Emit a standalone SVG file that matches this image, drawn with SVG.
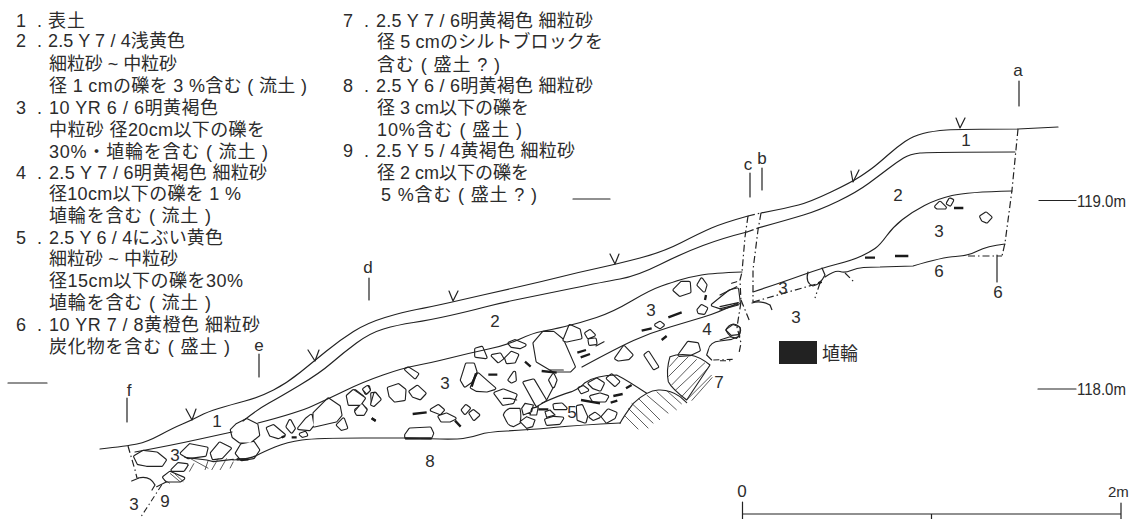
<svg xmlns="http://www.w3.org/2000/svg" width="1131" height="519" viewBox="0 0 1131 519">
<style>
text{font-family:"Liberation Sans","Noto Sans CJK JP",sans-serif;fill:#2c2c2c}
.k{font-size:18px}
.n{font-size:17px;text-anchor:middle}
.m{font-size:17px}
.l{fill:none;stroke:#222;stroke-width:1.2;stroke-linejoin:round;stroke-linecap:round}
.d{stroke-dasharray:7 3 1.5 3;stroke-linecap:butt}
.g{fill:none;stroke:#222;stroke-width:3.4;stroke-linejoin:round;stroke-linecap:round}
.rd{fill:#222;stroke:#222;stroke-width:11.4;stroke-linejoin:round}
.rw{fill:#fff;stroke:#fff;stroke-width:4.6;stroke-linejoin:round}
.h{fill:none;stroke:#333;stroke-width:2.4}
.t{fill:none;stroke:#1a1a1a;stroke-width:7;stroke-linecap:butt}
.gd{fill:none;stroke:#222;stroke-width:3.2;stroke-dasharray:18 9 4 9}
</style>
<defs>
<path id="r-ll" d="M425 180L440 165 470 150 500 165 505 195 480 215 450 215 430 200ZM440 250L455 225 490 218 505 240 490 262 455 268ZM135 260L160 245 200 250 225 270 215 285 170 285 145 280ZM275 250L300 225 350 235 345 255 295 262ZM365 250L390 220 420 235 395 262 370 265ZM247 300L265 282 290 285 280 300ZM222 322L240 308 280 325 270 332 230 332Z"/>
<path id="r-l" d="M113 535L130 528 162 555 145 562 122 555ZM172 530L180 513 192 535 185 545ZM207 535L230 507 243 497 248 525 238 538ZM253 490L295 448 327 470 332 495 318 512 253 527ZM323 525L340 508 349 533 335 537ZM358 435L375 423 397 440 392 457 367 462ZM404 420L415 411 417 420 408 429ZM426 432L435 431 447 447 428 462ZM378 480L395 468 407 478 398 489 385 492ZM212 553L225 548 229 555 218 558Z"/>
<path id="r-m" d="M146 265L175 255 194 270 192 298 165 302 151 288ZM211 275L232 260 254 280 240 295 220 288ZM198 208L205 205 232 222 225 232ZM365 240L380 193 400 193 407 215 392 245 375 257ZM395 262L415 223 442 247 463 265 440 272 410 270ZM408 148L425 143 437 172 408 168ZM458 167L480 163 487 175 475 184ZM498 175L515 158 532 165 523 185 502 187ZM508 130L525 123 554 135 540 142 515 138ZM508 240L523 218 525 240 515 245ZM466 280L490 271 527 285 518 307 490 312ZM553 248L580 241 615 300 590 315ZM583 130L610 98 640 98 667 120 702 200 690 212 640 212 592 183ZM630 240L640 225 647 240 640 259ZM275 330L295 318 309 330 300 340ZM298 350L320 343 344 355 330 362 305 362ZM368 330L378 318 387 325 375 339ZM391 340L400 333 415 345 402 357ZM198 405L210 388 270 385 277 400 272 412 198 412ZM643 315L665 313 677 325 645 325ZM618 360L640 353 667 355 658 369 622 372ZM23 288L40 273 72 295 60 312 28 312ZM72 268L82 261 87 270 80 277ZM96 313L105 281 119 298 101 315ZM48 335L65 315 77 330 70 342 52 342Z"/>
<path id="r-r" d="M193 240L210 198 237 210 242 233 200 242ZM258 220L270 213 282 225 265 232ZM268 240L285 238 287 250 270 252ZM523 90L545 68 567 68 569 95 540 105ZM595 75L605 58 617 75 612 92ZM595 150L605 138 619 145 612 159 597 157ZM638 135L690 93 712 88 717 128 660 142ZM468 195L480 188 489 195 480 202ZM348 295L372 261 395 285 385 295 355 299ZM436 285L445 278 472 320 462 325ZM238 385L250 381 262 390 245 397ZM268 370L290 358 309 370 300 389 280 382ZM323 355L335 346 355 365 345 375ZM273 410L300 403 322 410 315 422 280 422ZM233 440L245 438 259 470 255 485 235 478ZM271 470L285 461 297 470 280 477ZM308 470L325 451 347 460 342 473 320 485ZM538 285L565 248 592 252 597 270 570 283ZM683 210L700 198 717 205 715 220 695 222Z"/>
<path id="r-a" d="M168 440L180 428 195 443 172 443ZM203 430L210 418 217 421 210 434ZM303 470L318 460 332 472 320 485 308 480Z"/>
</defs>
<rect width="1131" height="519" fill="#fff"/>

<g id="legend-left" class="k">
<text x="16" y="27" textLength="26">1 .</text><text x="48" y="27" textLength="37">表土</text>
<text x="16" y="47" textLength="26">2 .</text><text x="48" y="47" textLength="137">2.5 Y 7 / 4浅黄色</text>
<text x="49" y="70" textLength="128">細粒砂 ~ 中粒砂</text>
<text x="49" y="92" textLength="258">径 1 cmの礫を 3 %含む ( 流土 )</text>
<text x="16" y="114" textLength="26">3 .</text><text x="49" y="114" textLength="169">10 YR 6 / 6明黄褐色</text>
<text x="49" y="136" textLength="216">中粒砂 径20cm以下の礫を</text>
<text x="49" y="158" textLength="219">30%・埴輪を含む ( 流土 )</text>
<text x="16" y="179" textLength="26">4 .</text><text x="49" y="179" textLength="218">2.5 Y 7 / 6明黄褐色 細粒砂</text>
<text x="49" y="200" textLength="192">径10cm以下の礫を 1 %</text>
<text x="49" y="222" textLength="162">埴輪を含む ( 流土 )</text>
<text x="16" y="244" textLength="26">5 .</text><text x="49" y="244" textLength="174">2.5 Y 6 / 4にぶい黄色</text>
<text x="49" y="265" textLength="129">細粒砂 ~ 中粒砂</text>
<text x="49" y="287" textLength="194">径15cm以下の礫を30%</text>
<text x="49" y="309" textLength="162">埴輪を含む ( 流土 )</text>
<text x="16" y="331" textLength="26">6 .</text><text x="49" y="331" textLength="211">10 YR 7 / 8黄橙色 細粒砂</text>
<text x="49" y="353" textLength="181">炭化物を含む ( 盛土 )</text>
</g>
<g id="legend-right" class="k">
<text x="343" y="27" textLength="26">7 .</text><text x="376" y="27" textLength="217">2.5 Y 7 / 6明黄褐色 細粒砂</text>
<text x="377" y="48" textLength="226">径 5 cmのシルトブロックを</text>
<text x="377" y="71" textLength="123">含む ( 盛土 ? )</text>
<text x="343" y="92" textLength="26">8 .</text><text x="376" y="92" textLength="217">2.5 Y 6 / 6明黄褐色 細粒砂</text>
<text x="377" y="114" textLength="152">径 3 cm以下の礫を</text>
<text x="377" y="136" textLength="145">10%含む ( 盛土 )</text>
<text x="343" y="157" textLength="26">9 .</text><text x="376" y="157" textLength="199">2.5 Y 5 / 4黄褐色 細粒砂</text>
<text x="377" y="179" textLength="152">径 2 cm以下の礫を</text>
<text x="381" y="201" textLength="156">5 %含む ( 盛土 ? )</text>
</g>

<g id="rocks-lower-left" transform="translate(90,370) scale(.33333)">
<use href="#r-ll" class="rd"/><use href="#r-ll" class="rw"/>
<path class="g" d="M285 262L350 270 370 275 430 268M200 350L230 335M125 333L145 325"/>
<path class="h" d="M295 285L285 302M312 280L298 305M300 265L355 295M355 270L345 300M385 265L365 300M410 265L390 300M430 275L420 295M240 310L270 335M255 312L280 335M222 330L240 340"/>
<path class="t" d="M440 268H475"/>
<path class="gd" d="M215 345L150 445"/>
</g>

<g id="rocks-left" transform="translate(230,250) scale(.33333)">
<use href="#r-l" class="rd"/><use href="#r-l" class="rw"/>
<path class="t" d="M155 562L165 558M185 562H200M425 505L437 513"/>
</g>

<g id="rocks-middle" transform="translate(340,300) scale(.33333)">
<use href="#r-m" class="rd"/><use href="#r-m" class="rw"/>
<path class="g" d="M490 345Q495 330 510 325L540 325Q545 350 540 370L520 380Q505 378 500 365ZM540 365L560 350 585 360 578 380 560 385ZM545 325L555 310 580 315 575 335 550 345ZM575 325L595 320 590 345 570 345ZM615 335L630 330 645 345 620 352ZM490 295L510 295 530 300M620 300L640 262M560 385L563 390"/>
<path class="t" d="M395 260L408 220M445 224H472M555 185L572 200M605 213L650 218M218 342L260 337M345 362L362 380M95 355L107 362M195 415H275M595 328H625"/>
</g>

<g id="rocks-right" transform="translate(500,260) scale(.33333)">
<use href="#r-r" class="rd"/><use href="#r-r" class="rw"/>
<path class="g" d="M288 258L312 245M150 330H190M125 430Q180 405 215 395Q240 385 255 368Q290 345 350 345Q380 360 440 400M625 270Q630 245 660 243L695 238 720 228M625 270L620 285 635 300M510 290Q498 330 505 365Q515 385 560 420L630 315Q600 290 570 285Q535 280 510 290ZM360 490Q370 470 400 430Q440 392 475 390Q510 388 540 410L560 428"/>
<path class="h" d="M508 320L535 290M505 350L565 290M515 375L590 298M525 392L615 308M545 410L628 320M560 420L635 345M575 422L637 352M372 465L415 508M385 445L445 505M395 430L460 490M415 415L480 480M440 405L505 460M470 395L530 450M500 392L545 432"/>
<path class="t" d="M232 278L258 270M242 292L270 282M618 105L615 120M505 172L545 157M425 212L455 205M485 240L500 228M243 420L300 430M340 408L368 402M332 428L352 422M378 385L395 375"/>
<path class="gd" d="M640 300L700 298"/>
</g>

<g id="rocks-c" transform="translate(720,170) scale(.33333)">
<path class="g" d="M0 375L30 360 50 350M0 410L55 398M0 420L55 405M35 340L50 335M17 480Q25 465 40 462Q60 465 62 480Q60 498 50 505Q30 505 17 480ZM0 510L30 500 50 505"/>
<path class="gd" d="M0 572H35"/>
<path class="t" d="M435 263H465M295 340L305 335"/>
</g>

<g id="rocks-a" transform="translate(880,60) scale(.33333)">
<use href="#r-a" class="rd"/><use href="#r-a" class="rw"/>
<path class="t" d="M222 444H250M45 588H85"/>
</g>

<g id="section-lines">
<path class="l" d="M100 449Q127 446 137 444Q147 442 160 435Q173 428 182.5 424Q192 420 199.500 416Q207 412 218.5 408.5Q230 405 245 401Q260 397 273.5 390Q287 383 300 372.5Q313 362 326.5 351Q340 340 353.5 331.5Q367 323 385 317.5Q403 312 416.5 309.5Q430 307 450 302.5Q470 298 485 294.5Q500 291 520 286.5Q540 282 560 277Q580 272 598.5 268Q617 264 640 258Q663 252 681.5 242.5Q700 233 711.5 228Q723 223 748 216"/>
<path class="l" d="M761 213Q787 208 798.5 205Q810 202 831 192Q852 182 861 176Q870 170 875 166Q880 162 888.5 154.5Q897 147 905 141.5Q913 136 923 133.5Q933 131 946.5 130Q960 129 1018 129L1058 127"/>
<path class="l" d="M243 421Q258 409 269 403Q280 397 300 385Q320 373 331.5 363Q343 353 356.5 343Q370 333 383.5 329Q397 325 413.5 322.5Q430 320 450 315.5Q470 311 485 307Q500 303 520 299Q540 295 571.5 288.5Q603 282 620 279Q637 276 660 264.5Q683 253 703 245.5Q723 238 747 232"/>
<path class="l" d="M758 228Q787 220 803.5 215Q820 210 838.5 201Q857 192 868.5 183.5Q880 175 888.5 168.5Q897 162 903.5 158Q910 154 920 153Q930 152 1015 152"/>
<path class="l" d="M135 452Q173 445 200 439L232 432"/>
<path class="l" d="M258 423Q297 413 313.5 405.5Q330 398 346.5 390Q363 382 383 375Q403 368 416.5 365.5Q430 363 450 358Q470 353 488.5 349Q507 345 520 339Q533 333 541.5 331.5Q550 330 565 326.5Q580 323 596.5 317.5Q613 312 631.5 301Q650 290 661.5 286Q673 282 681.5 279.500Q690 277 701.5 275Q713 273 742 272"/>
<path class="l" d="M233 460Q250 459 256.5 455.5Q263 452 275 447Q287 442 302 440Q317 438 363 438L407 438Q453 440 463 438.5Q473 437 480 434.5Q487 432 507 431Q527 430 553.5 427.5Q580 425 620 423"/>
<path class="l" d="M582 367Q617 348 633.5 340.5Q650 333 668.5 327.5Q687 322 703.5 317Q720 312 738 303"/>
<path class="l" d="M753 292Q783 282 802.5 275Q822 268 837.5 264Q853 260 861.5 256Q870 252 875 248.5Q880 245 886.5 236Q893 227 902.5 219.5Q912 212 924.5 205.5Q937 199 952 195.5Q967 192 1012 191"/>
<path class="l" d="M752 303Q760 300 770 305"/>
<path class="l" d="M825 277Q835 270 840 271.5Q845 273 851 270.5Q857 268 863.5 267.5Q870 267 880 267L913 266Q943 257 955.5 256.5Q968 256 977.5 251Q987 246 1005 244"/>
<path class="l" d="M808 272Q805 283 813 286Q820 285 825 275L822 268"/>
<path class="l" d="M138 478Q150 475 155 485L152 490"/>
<polyline class="l d" points="748,216 745,237 742,272 740,280 741,302 737,327 741,343 739,353"/>
<polyline class="l d" points="761,213 758,230 753,270 753,302"/>
<polyline class="l d" points="748,216 761,213"/>
<polyline class="l d" points="747,232 758,228"/>
<polyline class="l d" points="1018,129 1012,190 1005,243 1002,256"/>
<polyline class="l d" points="968,256 1002,256"/>
<polyline class="l d" points="753,302 820,283"/>
<polyline class="l d" points="741,300 750,322"/>
<polyline class="l d" points="820,283 815,298"/>
<polyline class="l d" points="845,273 855,283"/>
<polyline class="l d" points="128,446 135,470 137,478"/>
<polyline class="l d" points="770,305 772,310"/>
<polyline class="l" points="997,255 997,282"/>
<polyline class="l" points="956,118 960,128 965,118"/>
<polyline class="l" points="851,171 853,182 859,170"/>
<polyline class="l" points="610,254 615,264 619,254"/>
<polyline class="l" points="449,291 453,301 458,291"/>
<polyline class="l" points="308,350 315,361 319,350"/>
<polyline class="l" points="186,409 192,420 196,409"/>
<path class="l" d="M8 383H47M573 199H610M1039 200.5H1076M1038 389H1076M1019 81V106M762 168V190M750 173V197M369 278V300M259 354V377M127 398V422"/>
<path class="l" d="M742.5 502V519M742.5 514H1121M931.5 514V519M1121 503V519"/>
</g>

<g id="labels">
<text class="n" x="1018" y="76">a</text>
<text class="n" x="762" y="164">b</text>
<text class="n" x="748" y="170">c</text>
<text class="n" x="368" y="273">d</text>
<text class="n" x="259" y="351">e</text>
<text class="n" x="129" y="396">f</text>
<text class="n" x="966" y="146">1</text>
<text class="n" x="898" y="201">2</text>
<text class="n" x="939" y="237">3</text>
<text class="n" x="939" y="277">6</text>
<text class="n" x="998" y="298">6</text>
<text class="n" x="783" y="294">3</text>
<text class="n" x="796" y="323">3</text>
<text class="n" x="707" y="335">4</text>
<text class="n" x="651" y="316">3</text>
<text class="n" x="719" y="388">7</text>
<text class="n" x="572" y="418">5</text>
<text class="n" x="495" y="327">2</text>
<text class="n" x="445" y="389">3</text>
<text class="n" x="217" y="427">1</text>
<text class="n" x="175" y="461">3</text>
<text class="n" x="134" y="510">3</text>
<text class="n" x="165" y="507">9</text>
<text class="n" x="430" y="467">8</text>
<text class="m" x="1077" y="207" textLength="49" lengthAdjust="spacingAndGlyphs">119.0m</text>
<text class="m" x="1077" y="395" textLength="49" lengthAdjust="spacingAndGlyphs">118.0m</text>
<text class="n" x="742" y="497">0</text>
<text x="1108" y="497" style="font-size:15px">2m</text>
<rect x="779" y="341" width="38" height="23" fill="#222"/>
<text x="822" y="360" style="font-size:18px" textLength="36">埴輪</text>
</g>
</svg>
